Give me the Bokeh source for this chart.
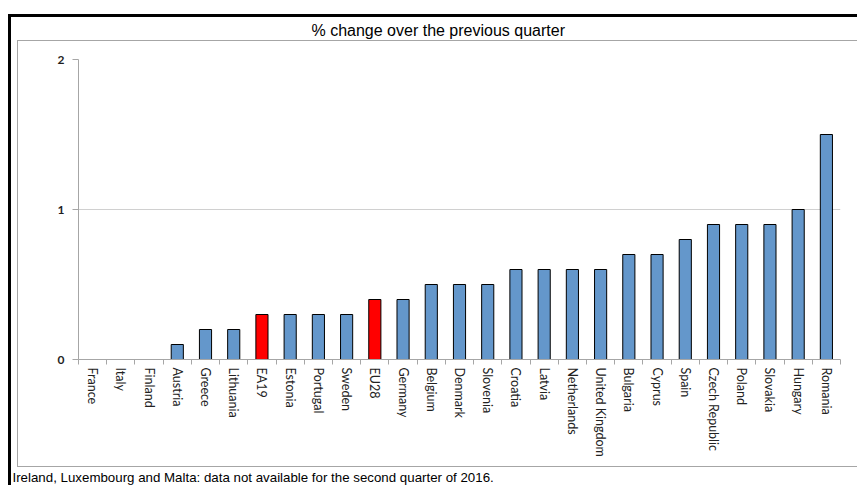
from bokeh.plotting import figure
from bokeh.models import (Range1d, LinearAxis, FixedTicker, Title, ColumnDataSource, Grid,
                          InlineStyleSheet)
from bokeh.embed import file_html
from bokeh.resources import INLINE

# ---- data ----
countries = ["France", "Italy", "Finland", "Austria", "Greece", "Lithuania", "EA19",
             "Estonia", "Portugal", "Sweden", "EU28", "Germany", "Belgium", "Denmark",
             "Slovenia", "Croatia", "Latvia", "Netherlands", "United Kingdom", "Bulgaria",
             "Cyprus", "Spain", "Czech Republic", "Poland", "Slovakia", "Hungary", "Romania"]
growth = [0.0, 0.0, 0.0, 0.1, 0.2, 0.2, 0.3,
          0.3, 0.3, 0.3, 0.4, 0.4, 0.5, 0.5,
          0.5, 0.6, 0.6, 0.6, 0.6, 0.7,
          0.7, 0.8, 0.9, 0.9, 0.9, 1.0, 1.5]
aggregates = ["EA19", "EU28"]
y_ticks = [0, 1, 2]
title_text = "% change over the previous quarter"
note_text = "Ireland, Luxembourg and Malta: data not available for the second quarter of 2016."

BLUE = "#6497cb"
RED = "#ff0000"
GRAY = "#a6a6a6"

n = len(countries)
pos = list(range(n))
colors = [RED if c in aggregates else BLUE for c in countries]
line_alpha = [1.0 if v > 0 else 0.0 for v in growth]
src = ColumnDataSource(dict(pos=pos, country=countries, growth=growth, color=colors, la=line_alpha))

W, H = 857, 485
p = figure(width=W, height=H,
           x_range=Range1d(-0.5, n - 0.5),
           y_range=Range1d(0, 2),
           output_backend="svg", toolbar_location=None,
           x_axis_location=None, y_axis_location=None,
           min_border_left=78, min_border_right=17,
           min_border_top=59, min_border_bottom=126)
p.outline_line_color = None
p.background_fill_color = "white"
p.border_fill_color = "white"
p.xgrid.grid_line_color = None
p.ygrid.grid_line_color = None

# horizontal gridlines
p.add_layout(Grid(dimension=1, ticker=FixedTicker(ticks=[t for t in y_ticks if t > 0]),
                  grid_line_color="#d0d0d0", grid_line_width=1))

# bars
p.vbar(x="pos", top="growth", width=0.43, source=src,
       fill_color="color", line_color="black", line_alpha="la", line_width=1)

# x axis: labels at category centres, tick marks between categories
xax = LinearAxis(ticker=FixedTicker(ticks=pos,
                                    minor_ticks=[i - 0.5 for i in range(n + 1)]),
                 major_label_overrides={i: c for i, c in enumerate(countries)},
                 major_tick_line_color=None, major_tick_out=0, major_tick_in=0,
                 minor_tick_line_color=GRAY, minor_tick_out=5, minor_tick_in=0,
                 axis_line_color=GRAY, axis_line_width=1,
                 major_label_orientation="vertical", major_label_standoff=3,
                 major_label_text_font="Lato", major_label_text_font_size="12.5px",
                 major_label_text_color="#222222")
p.add_layout(xax, "below")

# white spacer strip between the category labels and the footnote
last = pos[-1]
spacer = LinearAxis(ticker=FixedTicker(ticks=[last]), axis_line_color=None,
                    major_tick_line_color="white", minor_tick_line_color=None,
                    major_tick_out=9, major_tick_in=0, major_label_standoff=0,
                    major_label_overrides={last: ""})
p.add_layout(spacer, "below")

# y axis
yax = LinearAxis(ticker=FixedTicker(ticks=y_ticks),
                 major_tick_out=6, major_tick_in=0, major_tick_line_color=GRAY,
                 minor_tick_line_color=None,
                 axis_line_color=GRAY, axis_line_width=1,
                 major_label_standoff=8,
                 major_label_text_font="Lato", major_label_text_font_style="bold",
                 major_label_text_font_size="12px", major_label_text_color="#1f1f1f")
p.add_layout(yax, "left")

# title and footnote
p.add_layout(Title(text=title_text, align="left", offset=233, vertical_align="middle",
                   text_font="Liberation Sans", text_font_size="16px",
                   text_font_style="normal", text_color="black", standoff=39), "above")
p.add_layout(Title(text=note_text, align="left", offset=-66, vertical_align="middle",
                   text_font="Liberation Sans", text_font_size="13.3px",
                   text_font_style="normal", text_color="black", standoff=0), "below")

# document box (black) and chart-area box (grey)
p.stylesheets = [InlineStyleSheet(css="""
:host { position: relative; overflow: hidden; }
:host::before { content: ""; position: absolute; left: 8px; top: 14px; width: 849px; height: 471px;
  border-left: 3px solid #000; border-top: 3px solid #000; box-sizing: border-box;
  pointer-events: none; z-index: 5; }
:host::after { content: ""; position: absolute; left: 17px; top: 40px; width: 840px; height: 427px;
  border-left: 1.5px solid #a6a6a6; border-top: 1.5px solid #a6a6a6; border-bottom: 1.5px solid #a6a6a6;
  box-sizing: border-box; pointer-events: none; z-index: 5; }
""")]

open("out.html", "w").write(file_html(p, INLINE))
